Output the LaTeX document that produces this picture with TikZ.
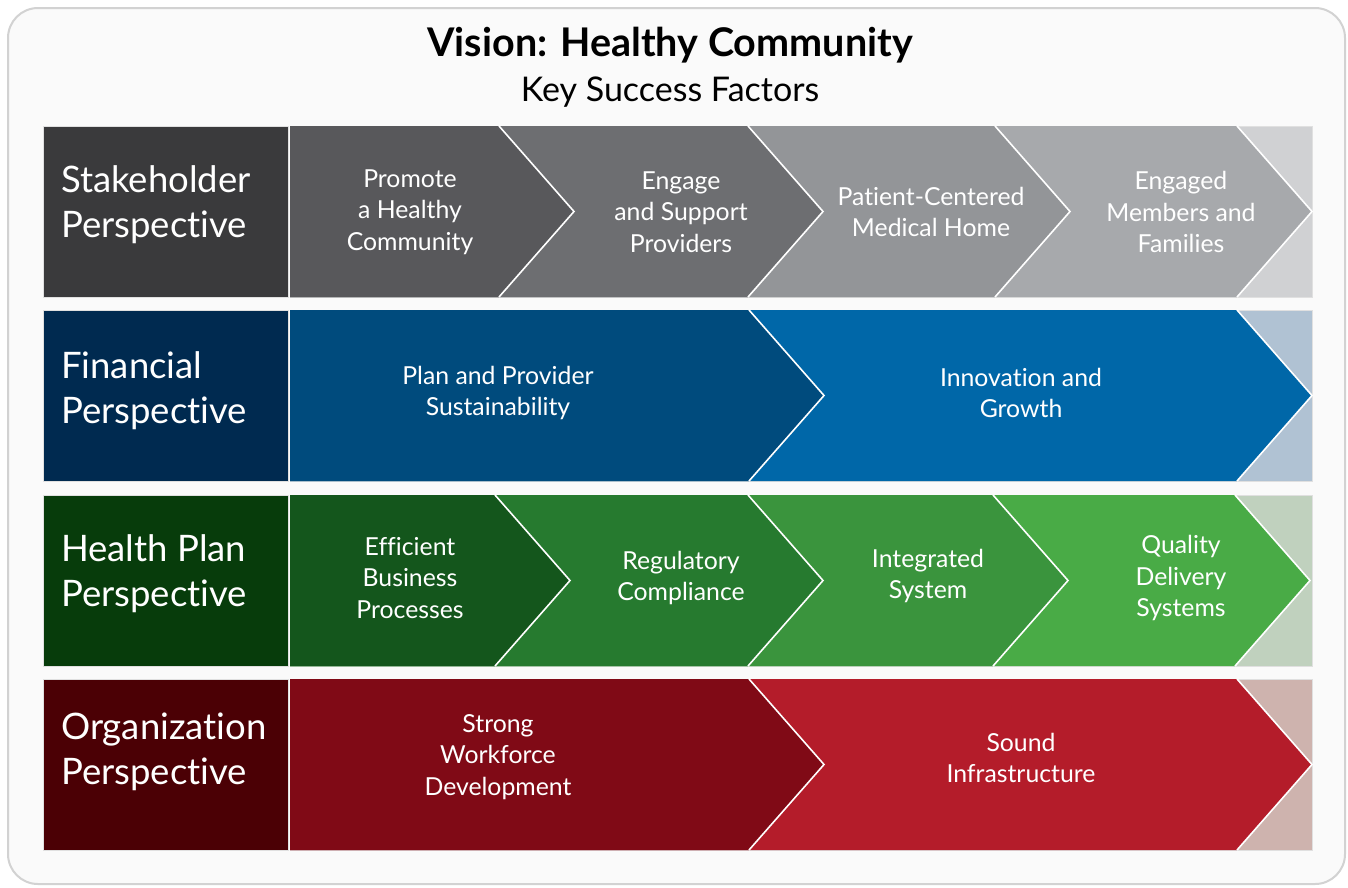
\documentclass[tikz,border=0pt]{standalone}
\usepackage{fontspec}
\setmainfont{Lato}[Ligatures=NoCommon]
\definecolor{frameln}{HTML}{D2D2D2}
\definecolor{framebg}{HTML}{FAFAFA}
\definecolor{sA}{HTML}{3A3A3C}\definecolor{sB}{HTML}{58585B}\definecolor{sC}{HTML}{6D6E71}
\definecolor{sD}{HTML}{939598}\definecolor{sE}{HTML}{A7A9AC}\definecolor{sF}{HTML}{D0D1D3}
\definecolor{fA}{HTML}{002A50}\definecolor{fB}{HTML}{004B7D}\definecolor{fC}{HTML}{0067A8}\definecolor{fF}{HTML}{B0C2D3}
\definecolor{hA}{HTML}{073C0B}\definecolor{hB}{HTML}{14561C}\definecolor{hC}{HTML}{267A2F}
\definecolor{hD}{HTML}{3A943D}\definecolor{hE}{HTML}{49AB46}\definecolor{hF}{HTML}{C0D1BE}
\definecolor{oA}{HTML}{4B0005}\definecolor{oB}{HTML}{800A16}\definecolor{oC}{HTML}{B41C2A}\definecolor{oF}{HTML}{CEB3AE}
\newcommand{\pent}[4]{%
  \fill[#1] (290,#3) -- (#2,#3) -- ({#2+75},{(#3+#4)/2}) -- (#2,#4) -- (290,#4) -- cycle;
  \draw[sepline] (#2,#3) -- ({#2+75},{(#3+#4)/2}) -- (#2,#4);}
\tikzset{
  sepline/.style={white, line width=1.6pt, line join=miter},
  rowbg/.style={draw=black!12, line width=0.8pt},
  lbl/.style={anchor=west, align=left, text=white, font=\fontsize{36.5}{45}\selectfont, inner sep=0pt},
  step text/.style={align=center, text=white, font=\fontsize{24.8}{31.5}\selectfont, inner sep=0pt},
}
\begin{document}
\begin{tikzpicture}[x=1pt,y=-1pt]
\useasboundingbox (0,0) rectangle (1348,887);
\fill[white] (0,0) rectangle (1348,887);
\draw[frameln, fill=framebg, line width=2pt, rounded corners=30pt] (8,8) rectangle (1345,884);

\node[font=\bfseries\fontsize{39.5}{44}\selectfont] (title) at (670,45) {Vision: Healthy Community};
\node[font=\fontsize{34}{38}\selectfont] (subtitle) at (670,92) {Key Success Factors};

% ---------- Row 1: Stakeholder ----------
\fill[sA, rowbg] (43,126) rectangle (288,297);
\fill[sF, rowbg] (290,126) rectangle (1312,297);
\pent{sE}{1237}{126}{297}
\pent{sD}{995}{126}{297}
\pent{sC}{748}{126}{297}
\pent{sB}{499}{126}{297}
\node[lbl] (l1) at (61,205) {Stakeholder\\Perspective};
\node[step text] (s11) at (410,212) {Promote\\a Healthy\\Community};
\node[step text] (s12) at (681,212) {Engage\\and Support\\Providers};
\node[step text] (s13) at (931,212) {Patient-Centered\\Medical Home};
\node[step text] (s14) at (1181,212) {Engaged\\Members and\\Families};

% ---------- Row 2: Financial ----------
\fill[fA, rowbg] (43,310) rectangle (288,481);
\fill[fF, rowbg] (290,310) rectangle (1312,481);
\pent{fC}{1237}{310}{481}
\pent{fB}{749}{310}{481}
\node[lbl] (l2) at (61,391) {Financial\\Perspective};
\node[step text] (s21) at (498,393) {Plan and Provider\\Sustainability};
\node[step text] (s22) at (1021,393) {Innovation and\\Growth};

% ---------- Row 3: Health Plan ----------
\fill[hA, rowbg] (43,495) rectangle (288,666);
\fill[hF, rowbg] (290,495) rectangle (1312,666);
\pent{hE}{1235}{495}{666}
\pent{hD}{993}{495}{666}
\pent{hC}{748}{495}{666}
\pent{hB}{495}{495}{666}
\node[lbl] (l3) at (61,574) {Health Plan\\Perspective};
\node[step text] (s31) at (410,578) {Efficient\\Business\\Processes};
\node[step text] (s32) at (681,578) {Regulatory\\Compliance};
\node[step text] (s33) at (928,576) {Integrated\\System};
\node[step text] (s34) at (1181,578) {Quality\\Delivery\\Systems};

% ---------- Row 4: Organization ----------
\fill[oA, rowbg] (43,679) rectangle (288,850);
\fill[oF, rowbg] (290,679) rectangle (1312,850);
\pent{oC}{1237}{679}{850}
\pent{oB}{749}{679}{850}
\node[lbl] (l4) at (61,752) {Organization\\Perspective};
\node[step text] (s41) at (498,757) {Strong\\Workforce\\Development};
\node[step text] (s42) at (1021,758) {Sound\\Infrastructure};
\end{tikzpicture}
\end{document}
